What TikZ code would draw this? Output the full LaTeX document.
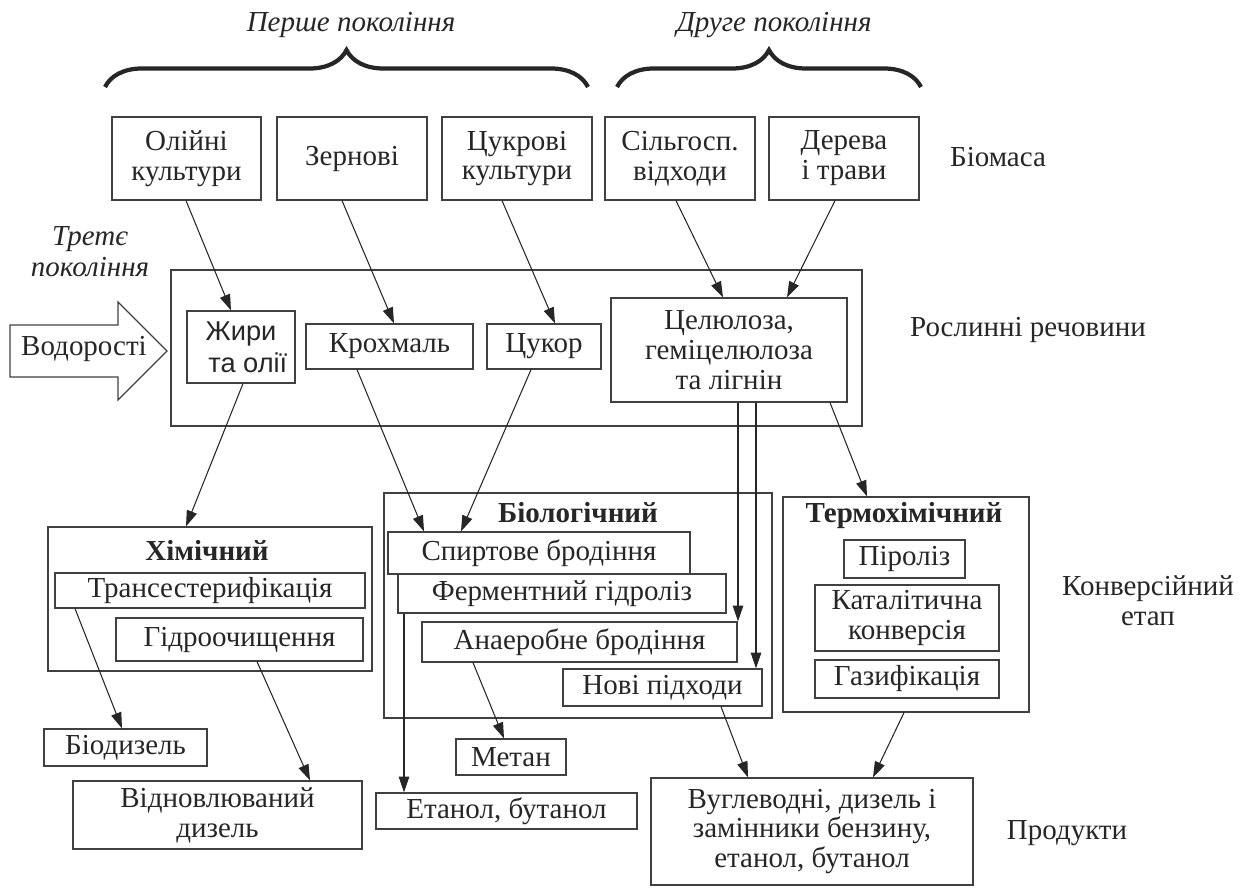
\documentclass[tikz,border=0pt]{standalone}
\usepackage{fontspec}
\setmainfont{Liberation Serif}
\newfontfamily\libsans{Liberation Sans}
\usetikzlibrary{arrows.meta,decorations.pathreplacing,positioning}
\newcommand{\unitpx}{0.02cm}
\tikzset{
  box/.style 2 args={draw=black!75, line width=0.7pt, align=center, inner sep=0pt,
    minimum width=#1*\unitpx, minimum height=#2*\unitpx},
  arr/.style={-{Triangle[length=9pt,width=6pt]}, line width=0.6pt, black!85},
  brc/.style={decorate, decoration={brace, amplitude=0.74cm}, line width=2.4pt, black!85},
  head/.style={font=\fontsize{16.5}{17}\selectfont\bfseries},
  gen/.style={font=\fontsize{16.5}{17.5}\selectfont\itshape, align=center}
}
\begin{document}
\begin{tikzpicture}[x=0.02cm, y=-0.02cm, font=\fontsize{16.5}{17}\selectfont, text=black!85]
  \useasboundingbox (0,0) rectangle (1253,888);
  % generations
  \node[gen] (gen1) at (351,25) {Перше покоління};
  \node[gen] (gen2) at (774,25) {Друге покоління};
  \node[gen] (gen3) at (90,252) {Третє\\покоління};
  \coordinate (b1l) at (105,87);
  \coordinate (b1r) at (588,87);
  \coordinate (b2l) at (617,87);
  \coordinate (b2r) at (921,87);
  \draw[brc] (b1l) -- (b1r);
  \draw[brc] (b2l) -- (b2r);

  % biomass
  \node[box={149}{83}] (olii) at (186.5,158.5) {Олійні\\культури};
  \node[box={150}{83}] (zern) at (352,158.5) {Зернові};
  \node[box={150}{83}] (tsukr) at (517,158.5) {Цукрові\\культури};
  \node[box={150}{83}] (silg) at (680,158.5) {Сільгосп.\\відходи};
  \node[box={150}{83}] (derev) at (844,158.5) {Дерева\\і трави};
  \node (biomasa) at (998,157) {Біомаса};

  % plant substances
  \node[box={691}{156}] (plants) at (516.5,348) {};
  \node[box={108}{72}, font=\fontsize{15.5}{18}\selectfont\libsans] (zhyry) at (241,347) {Жири\\\hspace*{0.5em}та олії};
  \node[box={167}{45}] (krokh) at (389.5,346.5) {Крохмаль};
  \node[box={114}{45}] (tsukor) at (544,346.5) {Цукор};
  \node[box={236}{104}] (tsel) at (729,350) {Целюлоза,\\геміцелюлоза\\та лігнін};
  \node (rechovyny) at (1028,330) {Рослинні речовини};
  \node (vodor) at (84,349) {Водорості};
  \draw[draw=black!75, line width=0.7pt] (10,325) -- (118,325) -- (118,302) -- (167,351)
    -- (118,400) -- (118,377) -- (10,377) -- cycle;

  % conversion
  \node[box={324}{144}] (khim) at (210,599) {};
  \node[head] (khimlbl) at (207,550) {Хімічний};
  \node[box={310}{35}] (trans) at (210,590.5) {Трансестерифікація};
  \node[box={247}{43}] (hidro) at (239.5,639.5) {Гідроочищення};

  \node[box={388}{225}] (biol) at (578,605.5) {};
  \node[head] (biollbl) at (578,513) {Біологічний};
  \node[box={302}{42}] (spyrt) at (539,553) {Спиртове бродіння};
  \node[box={328}{39}] (ferm) at (562,593.5) {Ферментний гідроліз};
  \node[box={315}{40}] (anaer) at (579.5,642) {Анаеробне бродіння};
  \node[box={199}{37}] (novi) at (662.5,687.5) {Нові підходи};

  \node[box={246}{215}] (termo) at (906,604.5) {};
  \node[head] (termolbl) at (904,516) {Термохімічний};
  \node[box={121}{38}] (piro) at (904.5,559) {Піроліз};
  \node[box={184}{66}] (katal) at (907,618) {Каталітична\\конверсія};
  \node[box={184}{38}] (gazyf) at (907,679) {Газифікація};
  \node[align=center] (etap) at (1148,601) {Конверсійний\\етап};

  % products
  \node[box={163}{37}] (biodyz) at (125.5,747.5) {Біодизель};
  \node[box={289}{68}] (vidnovl) at (217.5,815) {Відновлюваний\\дизель};
  \node[box={110}{36}] (metan) at (511,757) {Метан};
  \node[box={261}{36}] (etanol) at (506.5,811) {Етанол, бутанол};
  \node[box={322}{107}] (prod) at (812,831.5) {Вуглеводні, дизель і\\замінники бензину,\\етанол, бутанол};
  \node (produkty) at (1067,833) {Продукти};

  % arrows
  \draw[arr] (olii.south -| 186,0) -- (zhyry.north -| 231,0);
  \draw[arr] (zern.south -| 342,0) -- (krokh.north -| 394,0);
  \draw[arr] (tsukr.south -| 502,0) -- (tsukor.north -| 555,0);
  \draw[arr] (silg.south -| 676,0) -- (tsel.north -| 723,0);
  \draw[arr] (derev.south -| 835,0) -- (tsel.north -| 787,0);
  \draw[arr] (zhyry.south -| 243,0) -- (khim.north -| 186,0);
  \draw[arr] (krokh.south -| 357,0) -- (spyrt.north -| 424,0);
  \draw[arr] (tsukor.south -| 531,0) -- (spyrt.north -| 461,0);
  \draw[arr] (tsel.south -| 738,0) -- (anaer.north -| 738,0);
  \draw[arr] (tsel.south -| 756,0) -- (novi.north -| 756,0);
  \draw[arr] (tsel.south -| 830,0) -- (termo.north -| 867,0);
  \draw[arr] (trans.south -| 75,0) -- (biodyz.north -| 122,0);
  \draw[arr] (hidro.south -| 257,0) -- (vidnovl.north -| 310,0);
  \draw[arr] (ferm.south -| 404,0) -- (etanol.north -| 404,0);
  \draw[arr] (anaer.south -| 473,0) -- (metan.north -| 504,0);
  \draw[arr] (novi.south -| 721,0) -- (prod.north -| 748,0);
  \draw[arr] (termo.south -| 904,0) -- (prod.north -| 873,0);
\end{tikzpicture}
\end{document}
